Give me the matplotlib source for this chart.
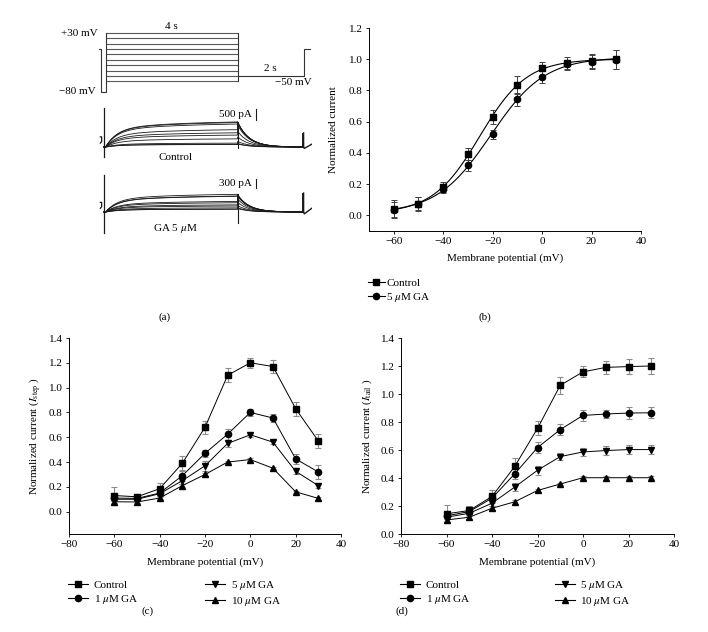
import numpy as np
import matplotlib
matplotlib.use('Agg')
import matplotlib.pyplot as plt
from matplotlib.lines import Line2D

plt.rcParams['font.family'] = ['Liberation Serif', 'DejaVu Serif']
plt.rcParams['mathtext.fontset'] = 'stix'
plt.rcParams['font.size'] = 8
plt.rcParams['axes.linewidth'] = 0.7

# ---------------- data ----------------
V = [-60, -50, -40, -30, -20, -10, 0, 10, 20, 30]

# panel (b): normalized activation
ACT_CONTROL = [0.043, 0.075, 0.18, 0.392, 0.632, 0.835, 0.942, 0.974, 0.991, 1.0]
ACT_CONTROL_ERR = [0.055, 0.045, 0.035, 0.04, 0.045, 0.06, 0.043, 0.04, 0.045, 0.06]
ACT_GA = [0.036, 0.075, 0.167, 0.32, 0.52, 0.743, 0.889, 0.968, 0.985, 0.996]
ACT_GA_ERR = [0.05, 0.04, 0.02, 0.035, 0.03, 0.04, 0.04, 0.03, 0.045, 0.06]

# panel (c): I_step
ISTEP_CONTROL = [0.13, 0.12, 0.185, 0.39, 0.68, 1.10, 1.20, 1.17, 0.83, 0.57]
ISTEP_CONTROL_ERR = [0.07, 0.02, 0.05, 0.055, 0.05, 0.055, 0.04, 0.05, 0.055, 0.06]
ISTEP_1UM = [0.11, 0.107, 0.15, 0.29, 0.47, 0.625, 0.80, 0.755, 0.425, 0.32]
ISTEP_1UM_ERR = [0.02, 0.02, 0.02, 0.04, 0.03, 0.045, 0.025, 0.03, 0.04, 0.06]
ISTEP_5UM = [0.10, 0.10, 0.145, 0.25, 0.37, 0.55, 0.62, 0.56, 0.325, 0.21]
ISTEP_5UM_ERR = [0.015, 0.015, 0.015, 0.03, 0.04, 0.03, 0.02, 0.015, 0.025, 0.02]
ISTEP_10UM = [0.08, 0.078, 0.11, 0.21, 0.30, 0.40, 0.42, 0.35, 0.16, 0.107]
ISTEP_10UM_ERR = [0.01, 0.01, 0.01, 0.015, 0.015, 0.01, 0.01, 0.01, 0.01, 0.01]

# panel (d): I_tail
ITAIL_CONTROL = [0.144, 0.168, 0.268, 0.483, 0.754, 1.062, 1.158, 1.19, 1.196, 1.20]
ITAIL_CONTROL_ERR = [0.065, 0.035, 0.045, 0.06, 0.05, 0.06, 0.04, 0.045, 0.055, 0.06]
ITAIL_1UM = [0.13, 0.16, 0.256, 0.43, 0.617, 0.746, 0.847, 0.857, 0.864, 0.866]
ITAIL_1UM_ERR = [0.02, 0.02, 0.03, 0.035, 0.04, 0.04, 0.04, 0.03, 0.04, 0.04]
ITAIL_5UM = [0.12, 0.148, 0.22, 0.335, 0.455, 0.553, 0.586, 0.596, 0.603, 0.603]
ITAIL_5UM_ERR = [0.015, 0.015, 0.02, 0.03, 0.03, 0.025, 0.03, 0.03, 0.03, 0.03]
ITAIL_10UM = [0.10, 0.12, 0.184, 0.23, 0.311, 0.357, 0.402, 0.402, 0.402, 0.402]
ITAIL_10UM_ERR = [0.015, 0.01, 0.015, 0.015, 0.01, 0.01, 0.01, 0.015, 0.01, 0.01]

LABELS_B = ['Control', r'5 $\mu$M GA']
LABELS_CD = ['Control', r'1 $\mu$M GA', r'5 $\mu$M GA', r'10 $\mu$M GA']
MARKERS_CD = ['s', 'o', 'v', '^']

# panel (a): protocol and trace settings
HOLD_MV = 0
PRE_MV = -80
TAIL_MV = -50
STEP_S = 4.0
TAIL_S = 2.0
PA_PER_UNIT = 950.0     # scales normalized step/tail data into pA for the traces
TAU_FAST, TAU_SLOW, TAU_TAIL = 0.35, 2.5, 0.35

W, H = 708, 632
fig = plt.figure(figsize=(W / 100, H / 100), dpi=100)


def px_axes(l, t, r, b):
    return fig.add_axes([l / W, 1 - b / H, (r - l) / W, (b - t) / H])


def ftext(x, y, s, **kw):
    fig.text(x / W, 1 - y / H, s, **kw)


def style_axes(ax):
    for s in ['top', 'right']:
        ax.spines[s].set_visible(False)
    ax.tick_params(direction='out', length=2.5, width=0.6, labelsize=8, pad=2)


# ---------------- panel (a) ----------------
t0, t1 = -0.2, -0.2 + 213 / 33.0
proto = px_axes(99, 30, 312, 95)
proto.set_xlim(t0, t1)
proto.set_ylim(-85.6, 35.6)
proto.axis('off')
lc = '0.2'
levels = V
for lev in levels:
    proto.plot([0, STEP_S], [lev, lev], color='0.35', lw=0.8, solid_capstyle='butt')
proto.plot([-0.2, -0.13, -0.13, 0, 0], [HOLD_MV, HOLD_MV, PRE_MV, PRE_MV, max(levels)], color=lc, lw=0.8)
proto.plot([STEP_S, STEP_S], [max(levels), min(levels)], color=lc, lw=0.8)
proto.plot([STEP_S, STEP_S + TAIL_S, STEP_S + TAIL_S, STEP_S + TAIL_S + 0.2],
           [TAIL_MV, TAIL_MV, HOLD_MV, HOLD_MV], color=lc, lw=0.8)
proto.text(STEP_S / 2, 34, '4 s', ha='center', va='bottom', fontsize=8)
proto.text(STEP_S + TAIL_S / 2, -45, '2 s', ha='center', va='bottom', fontsize=8)
proto.text(STEP_S + TAIL_S + 0.25, -53, '\u221250 mV', ha='right', va='top', fontsize=8)
proto.text(-0.25, 30, '+30 mV', ha='right', va='center', fontsize=8)
proto.text(-0.3, PRE_MV, '\u221280 mV', ha='right', va='center', fontsize=8)


def act_shape(t):
    return 0.7 * (1 - np.exp(-t / TAU_FAST)) + 0.3 * (1 - np.exp(-t / TAU_SLOW))


def draw_traces(ax, step_vals, tail_vals, spike_up, spike_dn, off_dip, end_spike, bar_pa, bar_lo, name, name_y):
    ts = np.linspace(0, STEP_S, 200)
    tt = np.linspace(STEP_S, STEP_S + TAIL_S, 120)
    norm = act_shape(STEP_S)
    for a, b in zip(step_vals, tail_vals):
        A = a * PA_PER_UNIT
        B = b * PA_PER_UNIT
        ys = A * act_shape(ts) / norm
        yt = B * np.exp(-(tt - STEP_S) / TAU_TAIL)
        ax.plot(np.r_[-0.05, ts, tt], np.r_[0, ys, yt], color='0.1', lw=0.6)
    top = max(step_vals) * PA_PER_UNIT
    ax.plot([-0.05, -0.05], [spike_dn, spike_up], color='0.1', lw=0.9)
    ax.plot([-0.16, -0.12, -0.12, -0.16], [0.26 * spike_up, 0.26 * spike_up, 0.14 * spike_up, 0.1 * spike_up],
            color='0.1', lw=0.9)
    ax.plot([STEP_S, STEP_S], [off_dip, top], color='0.1', lw=0.8)
    e = STEP_S + TAIL_S
    ax.plot([e, e, e + 0.02, e + 0.25], [end_spike, 0, -0.1 * end_spike, 0.2 * end_spike], color='0.1', lw=1.0)
    ax.plot([e - 0.05, e - 0.05], [0, end_spike], color='0.1', lw=0.7)
    bx = STEP_S + 0.55
    ax.plot([bx, bx], [bar_lo, bar_lo + bar_pa], color='0.1', lw=0.8)
    ax.text(bx - 0.12, bar_lo + bar_pa / 2, '%d pA' % bar_pa, ha='right', va='center', fontsize=8)
    ax.text(2.12, name_y, name, ha='center', va='center', fontsize=8)


ctrl = px_axes(99, 100, 312, 165)
ctrl.set_xlim(t0, t1)
ctrl.set_ylim(-(165 - 147) * 45.5, (147 - 100) * 45.5)
ctrl.axis('off')
draw_traces(ctrl, ISTEP_CONTROL, ITAIL_CONTROL, 1775, -455, -60, 640, 500, 1228, 'Control', -455)

ga = px_axes(99, 170, 312, 240)
ga.set_xlim(t0, t1)
ga.set_ylim(-(240 - 212) * 33.3, (212 - 170) * 33.3)
ga.axis('off')
draw_traces(ga, ISTEP_5UM, ITAIL_5UM, 1233, -700, -366, 630, 300, 800, r'GA 5 $\mu$M', -533)

ftext(165, 317, '(a)', ha='center', va='center')

# ---------------- panel (b) ----------------
axb = px_axes(369, 28, 641, 231)
style_axes(axb)
Va = np.array(V, float)


def boltz_fit(y):
    y = np.asarray(y, float)
    best = None
    for vh in np.arange(-40, 0, 0.1):
        for k in np.arange(3, 20, 0.1):
            s = 1 / (1 + np.exp((vh - Va) / k))
            M = np.c_[np.ones_like(s), s]
            coef, res, *_ = np.linalg.lstsq(M, y, rcond=None)
            r = np.sum((M @ coef - y) ** 2)
            if best is None or r < best[0]:
                best = (r, vh, k, coef)
    return best[1:]


vv = np.linspace(-60, 30, 200)
for y, err, m, lab in [(ACT_CONTROL, ACT_CONTROL_ERR, 's', LABELS_B[0]), (ACT_GA, ACT_GA_ERR, 'o', LABELS_B[1])]:
    vh, k, coef = boltz_fit(y)
    fit = coef[0] + coef[1] / (1 + np.exp((vh - vv) / k))
    axb.plot(vv, fit, color='black', lw=0.8)
    axb.errorbar(V, y, yerr=err, fmt=m, color='black', ms=4.5, ecolor='0.25', elinewidth=0.7,
                 capsize=2, capthick=0.7)
axb.set_xlim(-70, 40)
axb.set_ylim(-0.1, 1.2)
axb.set_xticks([-60, -40, -20, 0, 20, 40])
axb.set_yticks(np.arange(0, 1.21, 0.2))
axb.set_yticklabels(['%.1f' % v for v in np.arange(0, 1.21, 0.2)])
ftext(505, 258, 'Membrane potential (mV)', ha='center', va='center')
ftext(333, 130, 'Normalized current', ha='center', va='center', rotation=90)
hb = [Line2D([], [], color='black', lw=0.8, marker=m, ms=4.5) for m in ['s', 'o']]
fig.legend(hb, LABELS_B, loc='upper left', bbox_to_anchor=(368 / W, 1 - 278 / H), frameon=False,
           handlelength=1.5, handletextpad=0.15, labelspacing=0.25, borderpad=0, borderaxespad=0, fontsize=8)
ftext(485, 317, '(b)', ha='center', va='center')


# ---------------- panels (c), (d) ----------------
def panel(ax, series, errs, ylim):
    style_axes(ax)
    for y, e, m in zip(series, errs, MARKERS_CD):
        ax.errorbar(V, y, yerr=e, fmt='-', marker=m, color='black', lw=0.7, ms=4.5, ecolor='0.55',
                    elinewidth=0.8, capsize=2, capthick=0.8)
    ax.set_xlim(-80, 40)
    ax.set_ylim(*ylim)
    ax.set_xticks([-80, -60, -40, -20, 0, 20, 40])
    ax.set_yticks(np.arange(0, 1.41, 0.2))
    ax.set_yticklabels(['%.1f' % v for v in np.arange(0, 1.41, 0.2)])


axc = px_axes(69, 338, 341, 534)
panel(axc, [ISTEP_CONTROL, ISTEP_1UM, ISTEP_5UM, ISTEP_10UM],
      [ISTEP_CONTROL_ERR, ISTEP_1UM_ERR, ISTEP_5UM_ERR, ISTEP_10UM_ERR], (-0.18, 1.4))
axd = px_axes(401, 338, 674, 534)
panel(axd, [ITAIL_CONTROL, ITAIL_1UM, ITAIL_5UM, ITAIL_10UM],
      [ITAIL_CONTROL_ERR, ITAIL_1UM_ERR, ITAIL_5UM_ERR, ITAIL_10UM_ERR], (0, 1.4))

ftext(205, 562, 'Membrane potential (mV)', ha='center', va='center')
ftext(537, 562, 'Membrane potential (mV)', ha='center', va='center')
ftext(35, 436, r'Normalized current ($I_{\mathrm{step}}$ )', ha='center', va='center', rotation=90)
ftext(367, 436, r'Normalized current ($I_{\mathrm{tail}}$ )', ha='center', va='center', rotation=90)

hcd = [Line2D([], [], color='black', lw=0.8, marker=m, ms=4.5) for m in MARKERS_CD]
fig.legend(hcd, LABELS_CD, loc='upper left', bbox_to_anchor=(68 / W, 1 - 579 / H), ncol=2, frameon=False,
           handlelength=1.8, handletextpad=0.5, labelspacing=0.25, columnspacing=6.0, borderpad=0,
           borderaxespad=0, fontsize=8)
fig.legend(hcd, LABELS_CD, loc='upper left', bbox_to_anchor=(400 / W, 1 - 579 / H), ncol=2, frameon=False,
           handlelength=1.8, handletextpad=0.5, labelspacing=0.25, columnspacing=7.6, borderpad=0,
           borderaxespad=0, fontsize=8)
ftext(148, 611, '(c)', ha='center', va='center')
ftext(402, 611, '(d)', ha='center', va='center')

fig.savefig('out.png', dpi=100)
